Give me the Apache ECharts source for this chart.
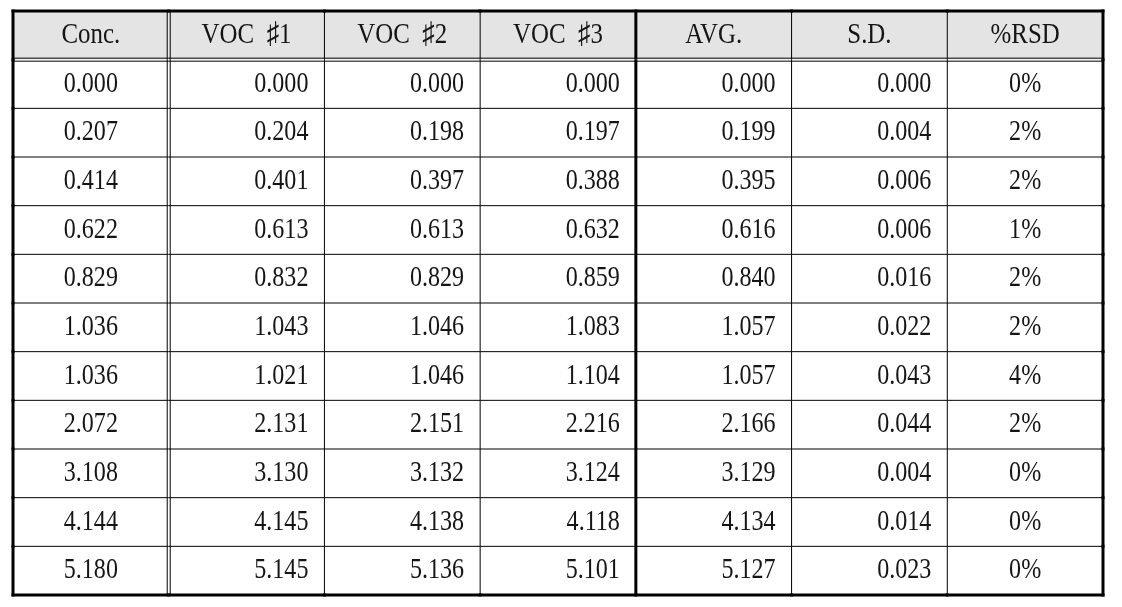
<!DOCTYPE html>
<html>
<head>
<meta charset="utf-8">
<script src="https://cdn.jsdelivr.net/npm/echarts@6/dist/echarts.min.js"></script>
<style>
  html, body { margin: 0; padding: 0; background: #fff; }
  #chart { width: 1122px; height: 607px; }
</style>
</head>
<body>
<div id="chart"></div>
<script>
const headers = ['Conc.', 'VOC  ♯1', 'VOC  ♯2', 'VOC  ♯3', 'AVG.', 'S.D.', '%RSD']
const conc = ['0.000', '0.207', '0.414', '0.622', '0.829', '1.036', '1.036', '2.072', '3.108', '4.144', '5.180']
const voc1 = ['0.000', '0.204', '0.401', '0.613', '0.832', '1.043', '1.021', '2.131', '3.130', '4.145', '5.145']
const voc2 = ['0.000', '0.198', '0.397', '0.613', '0.829', '1.046', '1.046', '2.151', '3.132', '4.138', '5.136']
const voc3 = ['0.000', '0.197', '0.388', '0.632', '0.859', '1.083', '1.104', '2.216', '3.124', '4.118', '5.101']
const avg = ['0.000', '0.199', '0.395', '0.616', '0.840', '1.057', '1.057', '2.166', '3.129', '4.134', '5.127']
const sd = ['0.000', '0.004', '0.006', '0.006', '0.016', '0.022', '0.043', '0.044', '0.004', '0.014', '0.023']
const rsd = ['0%', '2%', '2%', '1%', '2%', '2%', '4%', '2%', '0%', '0%', '0%']

const columns = [conc, voc1, voc2, voc3, avg, sd, rsd]
const rowNames = ['head'].concat(conc.map((v, i) => 'r' + i))

// one item per cell: [col, row, text]
const cells = []
headers.forEach((h, c) => cells.push([c, 0, h]))
conc.forEach((v, i) => {
  columns.forEach((col, c) => cells.push([c, i + 1, col[i]]))
})

const lastCol = headers.length - 1
const lastRow = rowNames.length - 1

function cellBox(api) {
  const p = api.coord([api.value(0), api.value(1)])
  const s = api.size([1, 1])
  return { x0: p[0] - s[0] / 2, y0: p[1] - s[1] / 2, x1: p[0] + s[0] / 2, y1: p[1] + s[1] / 2, w: s[0], h: s[1], cx: p[0], cy: p[1] }
}

function renderCell(params, api) {
  const c = api.value(0)
  const r = api.value(1)
  const b = cellBox(api)
  const centered = r === 0 || c === 0 || c === lastCol
  return {
    type: 'group',
    children: [
      {
        type: 'rect',
        shape: { x: b.x0, y: b.y0, width: b.w, height: b.h },
        style: { fill: r === 0 ? '#e4e4e4' : '#fff' },
      },
      {
        // tall narrow glyphs, like the original batang-style face
        type: 'text',
        x: centered ? b.cx : b.x1 - 16,
        y: b.cy,
        scaleX: 0.83,
        style: {
          x: 0,
          y: 0,
          text: cells[params.dataIndex][2],
          align: centered ? 'center' : 'right',
          verticalAlign: 'middle',
          font: (r === 0 ? '30px' : '29px') + ' "Liberation Serif", "DejaVu Serif", serif',
          fill: '#151515',
        },
      },
    ],
  }
}

function hline(x0, x1, y, w) {
  return { type: 'line', shape: { x1: x0, y1: y, x2: x1, y2: y }, style: { stroke: '#000', lineWidth: w } }
}
function vline(x, y0, y1, w) {
  return { type: 'line', shape: { x1: x, y1: y0, x2: x, y2: y1 }, style: { stroke: '#000', lineWidth: w } }
}

function renderRules(params, api) {
  const c = api.value(0)
  const r = api.value(1)
  const b = cellBox(api)
  const out = []
  // right edge
  if (c === 0) {
    out.push(vline(b.x1 - 1.5, b.y0, b.y1, 1), vline(b.x1 + 1.5, b.y0, b.y1, 1))
  } else if (c === 3) {
    out.push(vline(b.x1, b.y0, b.y1, 3))
  } else if (c === lastCol) {
    out.push(vline(b.x1, b.y0 - 1.5, b.y1 + 1.5, 3))
  } else {
    out.push(vline(b.x1, b.y0, b.y1, 1))
  }
  // bottom edge
  if (r === 0) {
    out.push(hline(b.x0, b.x1, b.y1 - 1.5, 1), hline(b.x0, b.x1, b.y1 + 1.5, 1))
  } else if (r === lastRow) {
    out.push(hline(b.x0 - 1.5, b.x1 + 1.5, b.y1, 3))
  } else {
    out.push(hline(b.x0, b.x1, b.y1, 1))
  }
  if (c === 0) out.push(vline(b.x0, b.y0 - 1.5, b.y1 + 1.5, 3))
  if (r === 0) out.push(hline(b.x0 - 1.5, b.x1 + 1.5, b.y0, 3))
  return { type: 'group', children: out }
}

const chart = echarts.init(document.getElementById('chart'))
const option = {
  animation: false,
  grid: { left: 13, top: 11, right: 19, bottom: 12 },
  xAxis: { type: 'category', data: headers, show: false },
  yAxis: { type: 'category', data: rowNames, inverse: true, show: false },
  series: [
    { type: 'custom', name: 'cells', data: cells, renderItem: renderCell, z: 1 },
    { type: 'custom', name: 'rules', data: cells, renderItem: renderRules, z: 2 },
  ],
}
chart.setOption(option)
</script>
</body>
</html>
